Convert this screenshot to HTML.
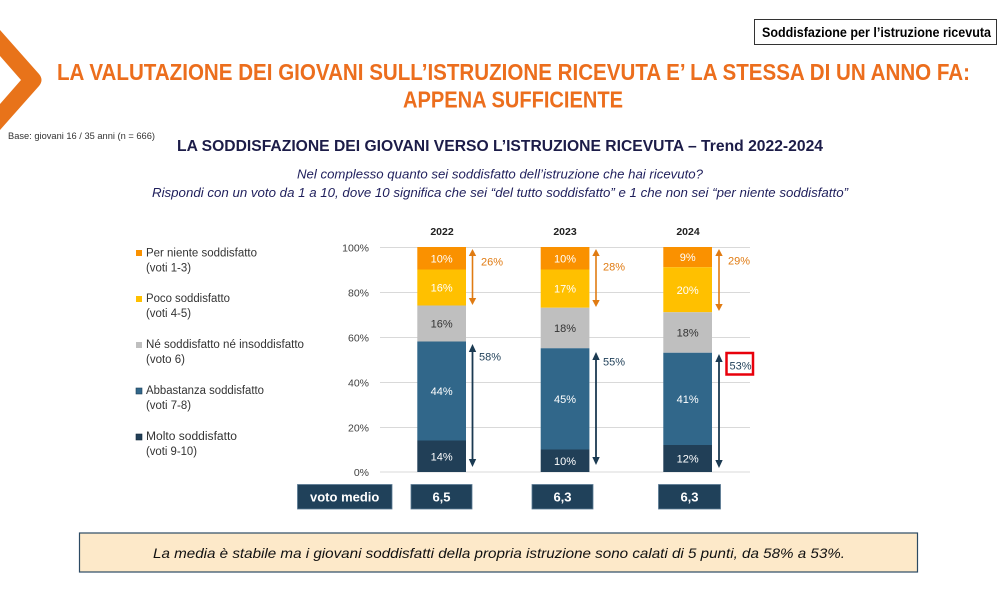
<!DOCTYPE html>
<html><head><meta charset="utf-8">
<style>
html,body{margin:0;padding:0;background:#fff;}
svg{display:block;}
text{font-family:"Liberation Sans",sans-serif;}
</style></head>
<body>
<svg width="1000" height="600" viewBox="0 0 1000 600" xmlns="http://www.w3.org/2000/svg">
<!-- chevron -->
<path d="M0,30 L39,74 Q44,80 39,86 L0,130 L0,104 L21,80 L0,56 Z" fill="#E8731A"/>
<!-- top-right box -->
<rect x="754.5" y="19.5" width="242" height="25" fill="#fff" stroke="#333" stroke-width="1"/>
<text x="762" y="37" font-size="13.5" font-weight="bold" fill="#000" textLength="229" lengthAdjust="spacingAndGlyphs">Soddisfazione per l’istruzione ricevuta</text>
<!-- title -->
<text x="57" y="80" font-size="23" font-weight="bold" fill="#EC6E1D" textLength="913" lengthAdjust="spacingAndGlyphs">LA VALUTAZIONE DEI GIOVANI SULL’ISTRUZIONE RICEVUTA E’ LA STESSA DI UN ANNO FA:</text>
<text x="403" y="107.5" font-size="23" font-weight="bold" fill="#EC6E1D" textLength="220" lengthAdjust="spacingAndGlyphs">APPENA SUFFICIENTE</text>
<!-- base -->
<text x="8" y="139" font-size="9.5" fill="#333" textLength="147" lengthAdjust="spacingAndGlyphs">Base: giovani 16 / 35 anni (n = 666)</text>
<!-- subtitle -->
<text x="177" y="151" font-size="15.5" font-weight="bold" fill="#1C1C48" textLength="646" lengthAdjust="spacingAndGlyphs">LA SODDISFAZIONE DEI GIOVANI VERSO L’ISTRUZIONE RICEVUTA – Trend 2022-2024</text>
<text x="297" y="178.5" font-size="13" font-style="italic" fill="#1F1F5C" textLength="406" lengthAdjust="spacingAndGlyphs">Nel complesso quanto sei soddisfatto dell’istruzione che hai ricevuto?</text>
<text x="152" y="197" font-size="13" font-style="italic" fill="#1F1F5C" textLength="696" lengthAdjust="spacingAndGlyphs">Rispondi con un voto da 1 a 10, dove 10 significa che sei “del tutto soddisfatto” e 1 che non sei “per niente soddisfatto”</text>

<!-- legend -->
<g font-size="11.5" fill="#333">
<rect x="136" y="250" width="6" height="6" fill="#FA9100"/>
<text x="146" y="256.5" textLength="111" lengthAdjust="spacingAndGlyphs">Per niente soddisfatto</text>
<text x="146" y="271.5" textLength="45" lengthAdjust="spacingAndGlyphs">(voti 1-3)</text>
<rect x="136" y="296" width="6" height="6" fill="#FFC000"/>
<text x="146" y="302" textLength="84" lengthAdjust="spacingAndGlyphs">Poco soddisfatto</text>
<text x="146" y="317" textLength="45" lengthAdjust="spacingAndGlyphs">(voti 4-5)</text>
<rect x="136" y="342" width="6" height="6" fill="#BFBFBF"/>
<text x="146" y="348" textLength="158" lengthAdjust="spacingAndGlyphs">Né soddisfatto né insoddisfatto</text>
<text x="146" y="363" textLength="39" lengthAdjust="spacingAndGlyphs">(voto 6)</text>
<rect x="136" y="388" width="6" height="6" fill="#31678A" stroke="#1E3F57" stroke-width="0.6"/>
<text x="146" y="394" textLength="118" lengthAdjust="spacingAndGlyphs">Abbastanza soddisfatto</text>
<text x="146" y="409" textLength="45" lengthAdjust="spacingAndGlyphs">(voti 7-8)</text>
<rect x="136" y="434" width="6" height="6" fill="#213F57" stroke="#152a3b" stroke-width="0.6"/>
<text x="146" y="440" textLength="91" lengthAdjust="spacingAndGlyphs">Molto soddisfatto</text>
<text x="146" y="455" textLength="51" lengthAdjust="spacingAndGlyphs">(voti 9-10)</text>
</g>

<!-- gridlines -->
<g stroke="#D9D9D9" stroke-width="1">
<line x1="380" y1="247.5" x2="750" y2="247.5"/>
<line x1="380" y1="292.5" x2="750" y2="292.5"/>
<line x1="380" y1="337.5" x2="750" y2="337.5"/>
<line x1="380" y1="382.5" x2="750" y2="382.5"/>
<line x1="380" y1="427.5" x2="750" y2="427.5"/>
<line x1="380" y1="472" x2="750" y2="472"/>
</g>
<g font-size="10.5" fill="#404040" text-anchor="end">
<text x="369" y="251.5">100%</text>
<text x="369" y="296.5">80%</text>
<text x="369" y="341.5">60%</text>
<text x="369" y="386.5">40%</text>
<text x="369" y="431.5">20%</text>
<text x="369" y="476">0%</text>
</g>

<!-- year labels -->
<g font-size="10.5" font-weight="bold" fill="#222" text-anchor="middle">
<text x="442" y="235">2022</text>
<text x="565" y="235">2023</text>
<text x="688" y="235">2024</text>
</g>

<!-- bars 2022 -->
<g>
<rect x="417.3" y="247" width="48.7" height="22.5" fill="#FA9100"/>
<rect x="417.3" y="269.5" width="48.7" height="36" fill="#FFC000"/>
<rect x="417.3" y="305.5" width="48.7" height="36" fill="#BFBFBF"/>
<rect x="417.3" y="341.5" width="48.7" height="99" fill="#31678A"/>
<rect x="417.3" y="440.5" width="48.7" height="31.5" fill="#213F57"/>
<rect x="540.7" y="247" width="48.7" height="22.5" fill="#FA9100"/>
<rect x="540.7" y="269.5" width="48.7" height="38.25" fill="#FFC000"/>
<rect x="540.7" y="307.75" width="48.7" height="40.5" fill="#BFBFBF"/>
<rect x="540.7" y="348.25" width="48.7" height="101.25" fill="#31678A"/>
<rect x="540.7" y="449.5" width="48.7" height="22.5" fill="#213F57"/>
<rect x="663.3" y="247" width="48.7" height="20.25" fill="#FA9100"/>
<rect x="663.3" y="267.25" width="48.7" height="45" fill="#FFC000"/>
<rect x="663.3" y="312.25" width="48.7" height="40.5" fill="#BFBFBF"/>
<rect x="663.3" y="352.75" width="48.7" height="92.25" fill="#31678A"/>
<rect x="663.3" y="445" width="48.7" height="27" fill="#213F57"/>
</g>
<g font-size="11" text-anchor="middle" fill="#fff">
<text x="441.7" y="262.3">10%</text>
<text x="441.7" y="291.5">16%</text>
<text x="441.7" y="327.5" fill="#333">16%</text>
<text x="441.7" y="395">44%</text>
<text x="441.7" y="460.3">14%</text>
<text x="565" y="262.3">10%</text>
<text x="565" y="292.6">17%</text>
<text x="565" y="332" fill="#333">18%</text>
<text x="565" y="402.9">45%</text>
<text x="565" y="464.8">10%</text>
<text x="687.7" y="261.1">9%</text>
<text x="687.7" y="293.8">20%</text>
<text x="687.7" y="336.5" fill="#333">18%</text>
<text x="687.7" y="402.9">41%</text>
<text x="687.7" y="462.5">12%</text>
</g>

<!-- orange arrows -->
<g stroke="#E07B12" stroke-width="1.6" fill="#E07B12">
<line x1="472.5" y1="252" x2="472.5" y2="302"/>
<polygon points="472.5,249 468.8,256 476.2,256" stroke="none"/>
<polygon points="472.5,305 468.8,298 476.2,298" stroke="none"/>
<line x1="596" y1="252" x2="596" y2="304"/>
<polygon points="596,249 592.3,256 599.7,256" stroke="none"/>
<polygon points="596,307 592.3,300 599.7,300" stroke="none"/>
<line x1="719" y1="252" x2="719" y2="308"/>
<polygon points="719,249 715.3,256 722.7,256" stroke="none"/>
<polygon points="719,311 715.3,304 722.7,304" stroke="none"/>
</g>
<g font-size="11" fill="#E07B12">
<text x="481" y="265.5">26%</text>
<text x="603" y="270.5">28%</text>
<text x="728" y="264.5">29%</text>
</g>

<!-- dark arrows -->
<g stroke="#1B3A52" stroke-width="1.8" fill="#1B3A52">
<line x1="472.5" y1="348" x2="472.5" y2="463"/>
<polygon points="472.5,344 468.8,352 476.2,352" stroke="none"/>
<polygon points="472.5,467 468.8,459 476.2,459" stroke="none"/>
<line x1="596" y1="356" x2="596" y2="461"/>
<polygon points="596,352 592.3,360 599.7,360" stroke="none"/>
<polygon points="596,465 592.3,457 599.7,457" stroke="none"/>
<line x1="719" y1="358" x2="719" y2="464"/>
<polygon points="719,354 715.3,362 722.7,362" stroke="none"/>
<polygon points="719,468 715.3,460 722.7,460" stroke="none"/>
</g>
<g font-size="11" fill="#1F3F58">
<text x="479" y="360.5">58%</text>
<text x="603" y="365.5">55%</text>
<text x="729.5" y="369.5">53%</text>
</g>
<rect x="726.5" y="353" width="26.5" height="21.5" fill="none" stroke="#E8000B" stroke-width="2.5"/>

<!-- voto medio boxes -->
<g fill="#20415A" stroke="#5B7A94" stroke-width="0.8">
<rect x="297.5" y="484.5" width="94.5" height="24.5"/>
<rect x="411" y="484.5" width="61" height="24.5"/>
<rect x="532" y="484.5" width="61" height="24.5"/>
<rect x="658.5" y="484.5" width="62" height="24.5"/>
</g>
<g font-size="13" font-weight="bold" fill="#fff" text-anchor="middle">
<text x="344.7" y="501.5">voto medio</text>
<text x="441.5" y="501.5">6,5</text>
<text x="562.5" y="501.5">6,3</text>
<text x="689.5" y="501.5">6,3</text>
</g>

<!-- bottom note -->
<rect x="79.5" y="533" width="838" height="39" fill="#FDE9C9" stroke="#2C4A63" stroke-width="1.2"/>
<text x="153" y="558" font-size="14" font-style="italic" fill="#111" textLength="692" lengthAdjust="spacingAndGlyphs">La media è stabile ma i giovani soddisfatti della propria istruzione sono calati di 5 punti, da 58% a 53%.</text>
</svg>
</body></html>
